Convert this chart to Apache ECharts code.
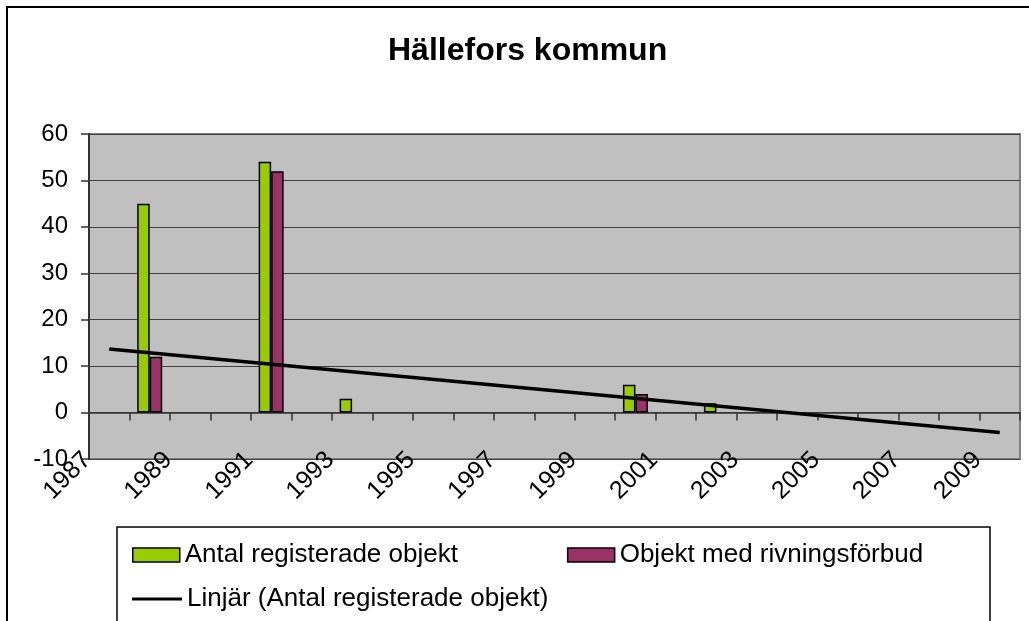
<!DOCTYPE html>
<html>
<head>
<meta charset="utf-8">
<title>Hällefors kommun</title>
<script src="https://cdn.jsdelivr.net/npm/echarts@6/dist/echarts.min.js"></script>
<style>
  html, body { margin: 0; padding: 0; background: #fff; }
  #chart { width: 1029px; height: 621px; }
</style>
</head>
<body>
<div id="chart"></div>
<script>
// data
const years = ['1987', '1988', '1989', '1990', '1991', '1992', '1993', '1994', '1995', '1996', '1997', '1998',
  '1999', '2000', '2001', '2002', '2003', '2004', '2005', '2006', '2007', '2008', '2009'];
const antal = [0, 45, 0, 0, 54, 0, 3, 0, 0, 0, 0, 0, 0, 6, 0, 2, 0, 0, 0, 0, 0, 0, 0];
const rivning = [0, 12, 0, 0, 52, 0, 0, 0, 0, 0, 0, 0, 0, 4, 0, 0, 0, 0, 0, 0, 0, 0, 0];
// trend line end values (first and last year)
const trendEnds = [13.7, -4.3];
const yTicks = { min: -10, max: 60, step: 10 };

const font = "'Liberation Sans', Arial, sans-serif";
// empty years get no bar at all (Excel draws nothing there)
const noZero = arr => arr.map(v => (v === 0 ? '-' : v));
const trend = years.map((y, i) => {
  if (i === 0) return trendEnds[0];
  if (i === years.length - 1) return trendEnds[1];
  return '-';
});

const chart = echarts.init(document.getElementById('chart'));
chart.setOption({
  animation: false,
  textStyle: { fontFamily: font },
  title: {
    text: 'Hällefors kommun',
    left: 383,
    top: 30,
    textStyle: { fontSize: 32, fontWeight: 'bold', color: '#000', fontFamily: font }
  },
  graphic: [
    {
      type: 'rect',
      shape: { x: 7, y: 7, width: 1050, height: 650 },
      style: { fill: 'none', stroke: '#000', lineWidth: 2 }
    },
    {
      type: 'rect',
      shape: { x: 117, y: 527, width: 873, height: 120 },
      style: { fill: '#fff', stroke: '#000', lineWidth: 1.5 }
    }
  ],
  legend: [
    {
      data: ['Antal registerade objekt', 'Objekt med rivningsförbud'],
      left: 127,
      top: 537,
      itemWidth: 47,
      itemHeight: 14,
      itemGap: 109,
      icon: 'rect',
      textStyle: { fontSize: 26, color: '#000', fontFamily: font },
      itemStyle: { borderColor: '#000', borderWidth: 1.5 }
    },
    {
      data: ['Linjär (Antal registerade objekt)'],
      left: 127,
      top: 581,
      itemWidth: 50,
      itemHeight: 3,
      icon: 'rect',
      textStyle: { fontSize: 26, color: '#000', fontFamily: font },
      itemStyle: { color: '#000', borderWidth: 0 },
      lineStyle: { width: 0 }
    }
  ],
  grid: [
    {
      left: 89, right: 9, top: 134, bottom: 162,
      show: true,
      backgroundColor: '#c0c0c0',
      borderColor: '#808080',
      borderWidth: 2
    },
    // same plot shifted left, only used to place the rotated year labels
    { left: 67, right: 31, top: 134, bottom: 162, show: false }
  ],
  xAxis: [
    {
      type: 'category',
      gridIndex: 0,
      data: years,
      axisLine: { onZero: true, lineStyle: { color: '#333', width: 1.5 } },
      axisTick: { show: true, interval: 0, length: 8, lineStyle: { color: '#333', width: 1.5 } },
      axisLabel: { show: false },
      splitLine: { show: false }
    },
    {
      type: 'category',
      gridIndex: 1,
      position: 'bottom',
      data: years,
      axisLine: { show: false, onZero: false },
      axisTick: { show: false },
      axisLabel: {
        interval: 1,
        rotate: 45,
        margin: -3,
        fontSize: 25,
        color: '#000',
        fontFamily: font
      }
    }
  ],
  yAxis: [
    {
      type: 'value',
      gridIndex: 0,
      min: yTicks.min,
      max: yTicks.max,
      interval: yTicks.step,
      axisLine: { show: true, lineStyle: { color: '#333', width: 2 } },
      axisTick: { show: true, length: 8, lineStyle: { color: '#333', width: 1.5 } },
      axisLabel: { fontSize: 24, color: '#000', margin: 21, fontFamily: font },
      splitLine: { show: true, lineStyle: { color: '#404040', width: 1.2 } }
    },
    {
      type: 'value',
      gridIndex: 1,
      min: yTicks.min,
      max: yTicks.max,
      interval: yTicks.step,
      show: false
    }
  ],
  series: [
    {
      name: 'Antal registerade objekt',
      type: 'bar',
      xAxisIndex: 0,
      yAxisIndex: 0,
      data: noZero(antal),
      barWidth: 12.5,
      barGap: '0%',
      itemStyle: { color: '#99cc00', borderColor: '#000', borderWidth: 1.5 }
    },
    {
      name: 'Objekt med rivningsförbud',
      type: 'bar',
      xAxisIndex: 0,
      yAxisIndex: 0,
      data: noZero(rivning),
      barWidth: 12.5,
      barGap: '0%',
      itemStyle: { color: '#993366', borderColor: '#000', borderWidth: 1.5 }
    },
    {
      name: 'Linjär (Antal registerade objekt)',
      type: 'line',
      xAxisIndex: 0,
      yAxisIndex: 0,
      data: trend,
      connectNulls: true,
      showSymbol: false,
      symbol: 'none',
      z: 5,
      lineStyle: { color: '#000', width: 3.5 },
      itemStyle: { color: '#000' }
    }
  ]
});
window.addEventListener('resize', () => {
  chart.resize();
});
</script>
</body>
</html>
